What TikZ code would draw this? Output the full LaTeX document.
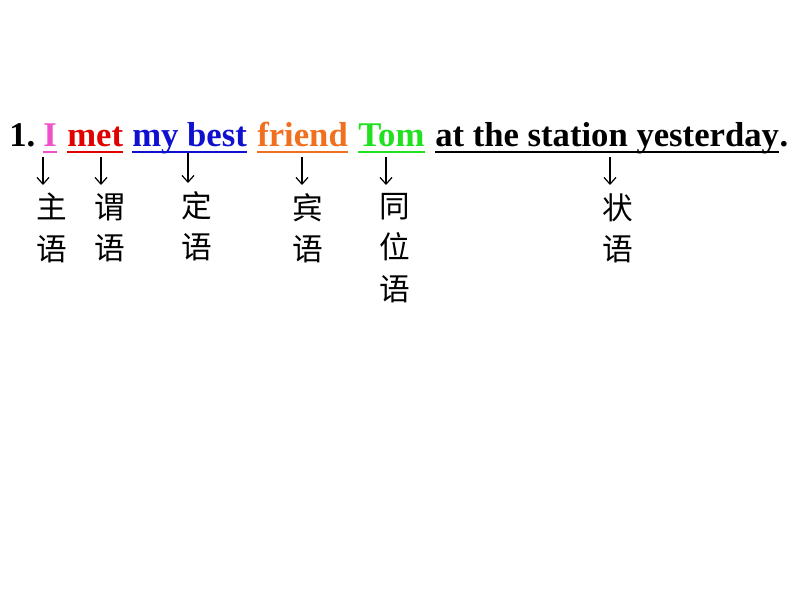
\documentclass[tikz,border=0pt]{standalone}
\usepackage{fontspec}
\setmainfont{Liberation Serif}
\newfontfamily\cjk{Noto Sans CJK SC}
\usetikzlibrary{arrows.meta}

% colours of the sentence parts
\definecolor{colI}{RGB}{240,80,200}
\definecolor{colMet}{RGB}{224,0,0}
\definecolor{colBest}{RGB}{16,16,208}
\definecolor{colFriend}{RGB}{240,112,32}
\definecolor{colTom}{RGB}{32,224,32}

\begin{document}
\begin{tikzpicture}[x=0.75pt,y=-0.75pt,
    word/.style={anchor=base west,inner sep=0pt,font=\bfseries\fontsize{26}{30}\selectfont},
    ul/.style={line width=1.8pt},
    arr/.style={-{Straight Barb[length=5pt,width=9pt]},line width=0.9pt,shorten >=6pt},
    lbl/.style={anchor=north,inner sep=0pt,align=center,font=\cjk\fontsize{23}{31}\selectfont}]

    % Fix the page to the size of the reference
    \useasboundingbox (0,0) rectangle (794,596);

    % Baseline of the sentence
    \def\B{146}

    % The words of the sentence
    \node[word] (num) at (9,\B) {1.};
    \node[word,text=colI] (wI) at (43,\B) {I};
    \node[word,text=colMet] (wMet) at (67,\B) {met};
    \node[word,text=colBest] (wBest) at (132,\B) {my best};
    \node[word,text=colFriend] (wFriend) at (257,\B) {friend};
    \node[word,text=colTom] (wTom) at (358,\B) {Tom};
    \node[word] (wAt) at (435,\B) {at the station yesterday};
    \node[word,anchor=base west] (dot) at (wAt.base east) {.};

    % Underline each part in its own colour
    \draw[ul,colI] ([yshift=-4.5pt]wI.base west) -- ([yshift=-4.5pt]wI.base east);
    \draw[ul,colMet] ([yshift=-4.5pt]wMet.base west) -- ([yshift=-4.5pt]wMet.base east);
    \draw[ul,colBest] ([yshift=-4.5pt]wBest.base west) -- ([yshift=-4.5pt]wBest.base east);
    \draw[ul,colFriend] ([yshift=-4.5pt]wFriend.base west) -- ([yshift=-4.5pt]wFriend.base east);
    \draw[ul,colTom] ([yshift=-4.5pt]wTom.base west) -- ([yshift=-4.5pt]wTom.base east);
    \draw[ul] ([yshift=-4.5pt]wAt.base west) -- ([yshift=-4.5pt]wAt.base east);

    % The names of the parts
    \node[lbl] (zhu) at (52,193) {主\\语};
    \node[lbl] (wei) at (110,193) {谓\\语};
    \node[lbl] (ding) at (197,191) {定\\语};
    \node[lbl] (bin) at (308,193) {宾\\语};
    \node[lbl] (tong) at (395,193) {同\\位\\语};
    \node[lbl] (zhuang) at (618,193) {状\\语};

    % Start points of the arrows under the underlines
    \coordinate (aI) at (43,157);
    \coordinate (aMet) at (101,157);
    \coordinate (aBest) at (188,153);
    \coordinate (aFriend) at (302,157);
    \coordinate (aTom) at (386,157);
    \coordinate (aAt) at (610,157);

    % Arrows down to the names
    \draw[arr] (aI) -- (aI |- zhu.north);
    \draw[arr] (aMet) -- (aMet |- wei.north);
    \draw[arr] (aBest) -- (aBest |- ding.north);
    \draw[arr] (aFriend) -- (aFriend |- bin.north);
    \draw[arr] (aTom) -- (aTom |- tong.north);
    \draw[arr] (aAt) -- (aAt |- zhuang.north);

\end{tikzpicture}
\end{document}
